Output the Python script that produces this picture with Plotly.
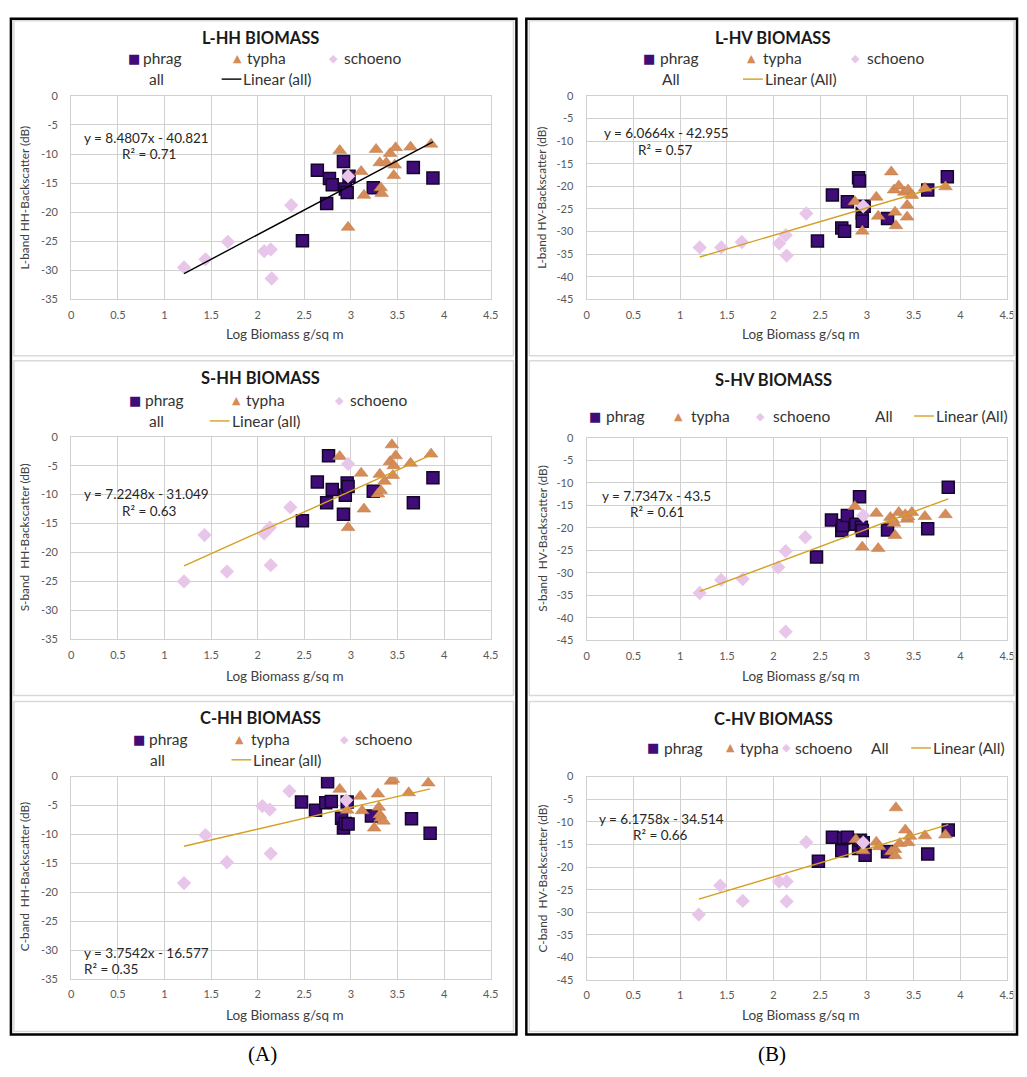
import plotly.graph_objects as go

# ---------------- DATA ----------------
x_ticks = [0, 0.5, 1, 1.5, 2, 2.5, 3, 3.5, 4, 4.5]
x_tick_labels = ["0", "0.5", "1", "1.5", "2", "2.5", "3", "3.5", "4", "4.5"]
y_ticks_35 = [0, -5, -10, -15, -20, -25, -30, -35]
y_ticks_45 = [0, -5, -10, -15, -20, -25, -30, -35, -40, -45]

# L-HH
phrag_x_lhh = [2.48, 2.64, 2.74, 2.77, 2.80, 2.92, 2.94, 2.96, 2.98, 3.24, 3.67, 3.88]
phrag_y_lhh = [-24.9, -12.8, -18.5, -14.2, -15.3, -11.3, -16.0, -16.6, -13.8, -15.8, -12.3, -14.1]
typha_x_lhh = [2.88, 2.97, 3.11, 3.14, 3.27, 3.31, 3.32, 3.33, 3.38, 3.42, 3.46, 3.47, 3.48, 3.64, 3.86]
typha_y_lhh = [-9.4, -22.6, -13.0, -17.1, -9.2, -11.5, -15.8, -16.8, -11.5, -9.9, -13.7, -11.9, -8.9, -8.8, -8.3]
schoeno_x_lhh = [1.21, 1.44, 1.68, 2.07, 2.14, 2.15, 2.36, 2.97]
schoeno_y_lhh = [-29.5, -28.1, -25.1, -26.7, -26.4, -31.4, -18.8, -13.8]

# L-HV
phrag_x_lhv = [2.47, 2.63, 2.73, 2.76, 2.79, 2.91, 2.92, 2.95, 2.95, 2.97, 3.22, 3.65, 3.86]
phrag_y_lhv = [-32.1, -21.9, -29.2, -29.9, -23.4, -18.1, -18.8, -25.9, -27.7, -24.4, -27.1, -20.8, -17.9]
typha_x_lhv = [2.87, 2.95, 3.10, 3.12, 3.26, 3.29, 3.30, 3.31, 3.34, 3.40, 3.43, 3.43, 3.44, 3.48, 3.62, 3.84]
typha_y_lhv = [-23.4, -29.9, -22.4, -26.6, -16.8, -20.8, -25.7, -28.7, -19.9, -21.3, -24.2, -26.8, -20.8, -22.0, -20.4, -20.1]
schoeno_x_lhv = [1.21, 1.44, 1.66, 2.06, 2.13, 2.14, 2.35, 2.96]
schoeno_y_lhv = [-33.5, -33.5, -32.3, -32.6, -30.8, -35.3, -26.0, -24.4]

# S-HH
phrag_x_shh = [2.48, 2.64, 2.74, 2.76, 2.80, 2.92, 2.94, 2.96, 2.97, 3.24, 3.67, 3.88]
phrag_y_shh = [-14.5, -7.8, -11.4, -3.3, -9.1, -13.4, -10.1, -8.0, -8.6, -9.4, -11.4, -7.1]
typha_x_shh = [2.88, 2.97, 3.11, 3.14, 3.29, 3.31, 3.32, 3.36, 3.42, 3.44, 3.45, 3.46, 3.48, 3.64, 3.86]
typha_y_shh = [-3.4, -15.7, -6.3, -12.5, -9.9, -6.5, -9.3, -7.7, -4.3, -1.4, -6.7, -5.0, -3.3, -4.6, -3.0]
schoeno_x_shh = [1.21, 1.43, 1.67, 2.07, 2.13, 2.14, 2.35, 2.97]
schoeno_y_shh = [-25.0, -17.0, -23.3, -16.7, -15.7, -22.2, -12.2, -4.7]

# S-HV
phrag_x_shv = [2.46, 2.62, 2.73, 2.74, 2.79, 2.88, 2.92, 2.94, 2.95, 3.22, 3.65, 3.87]
phrag_y_shv = [-26.5, -18.3, -20.6, -19.5, -17.3, -19.2, -13.1, -19.9, -20.6, -20.5, -20.2, -11.0]
typha_x_shv = [2.87, 2.95, 3.10, 3.12, 3.25, 3.28, 3.29, 3.30, 3.34, 3.41, 3.43, 3.44, 3.48, 3.62, 3.84]
typha_y_shv = [-15.3, -24.3, -16.8, -24.6, -17.7, -18.3, -19.0, -21.7, -16.6, -17.1, -18.1, -17.6, -16.6, -17.5, -17.1]
schoeno_x_shv = [1.21, 1.44, 1.67, 2.05, 2.13, 2.13, 2.34, 2.96]
schoeno_y_shv = [-34.5, -31.6, -31.4, -28.8, -25.2, -43.1, -22.1, -17.3]

# C-HH
phrag_x_chh = [2.47, 2.62, 2.73, 2.75, 2.79, 2.90, 2.92, 2.94, 2.96, 2.97, 3.22, 3.65, 3.85]
phrag_y_chh = [-4.4, -5.8, -4.5, -0.9, -4.3, -7.2, -8.9, -8.1, -4.4, -8.2, -6.8, -7.3, -9.8]
typha_x_chh = [2.88, 2.96, 3.10, 3.12, 3.25, 3.29, 3.30, 3.31, 3.32, 3.35, 3.43, 3.45, 3.62, 3.83]
typha_y_chh = [-2.2, -5.8, -3.4, -5.9, -8.9, -3.0, -5.3, -6.6, -7.2, -7.7, -0.8, -0.5, -2.8, -1.1]
schoeno_x_chh = [1.21, 1.44, 1.67, 2.05, 2.13, 2.14, 2.34, 2.95]
schoeno_y_chh = [-18.4, -10.1, -14.8, -5.1, -5.7, -13.3, -2.5, -4.1]

# C-HV
phrag_x_chv = [2.48, 2.63, 2.73, 2.75, 2.79, 2.91, 2.93, 2.96, 2.98, 3.22, 3.65, 3.87]
phrag_y_chv = [-18.7, -13.4, -16.4, -13.6, -13.4, -15.9, -14.1, -14.6, -17.4, -16.6, -17.1, -11.8]
typha_x_chv = [2.88, 2.96, 3.10, 3.13, 3.26, 3.30, 3.30, 3.31, 3.35, 3.41, 3.44, 3.46, 3.62, 3.84]
typha_y_chv = [-13.9, -16.4, -14.5, -15.5, -16.6, -16.1, -17.5, -6.9, -14.8, -11.8, -14.6, -13.2, -13.1, -12.9]
schoeno_x_chv = [1.20, 1.43, 1.67, 2.06, 2.14, 2.14, 2.35, 2.96]
schoeno_y_chv = [-30.5, -24.1, -27.5, -23.2, -23.2, -27.6, -14.5, -14.6]

panel_titles = ["L-HH BIOMASS", "L-HV BIOMASS", "S-HH BIOMASS", "S-HV BIOMASS", "C-HH BIOMASS", "C-HV BIOMASS"]
y_titles = ["L-band HH-Backscatter (dB)", "L-band HV-Backscatter (dB)",
            "S-band  HH-Backscatter (dB)", "S-band  HV-Backscatter (dB)",
            "C-band  HH-Backscatter (dB)", "C-band  HV-Backscatter (dB)"]
x_title = "Log Biomass g/sq m"
slopes = [8.4807, 6.0664, 7.2248, 7.7347, 3.7542, 6.1758]
intercepts = [-40.821, -42.955, -31.049, -43.5, -16.577, -34.514]
eq_texts = ["y = 8.4807x - 40.821", "y = 6.0664x - 42.955", "y = 7.2248x - 31.049",
            "y = 7.7347x - 43.5", "y = 3.7542x - 16.577", "y = 6.1758x - 34.514"]
r2_values = ["0.71", "0.57", "0.63", "0.61", "0.35", "0.66"]
all_labels = ["all", "All", "all", "All", "all", "All"]

# ---------------- STYLE / LAYOUT ----------------
W, H = 1027, 1077
FONT = "Lato"
GRID = "#d0d0d0"
C_PHRAG = "#3f0c78"
C_PHRAG_EDGE = "#15072a"
C_TYPHA = "#d58c58"
C_SCHOENO = "#e8c6ea"
C_TREND = ["#000000", "#d4a020", "#d4a020", "#d4a020", "#d4a020", "#d4a020"]


def fx(p):
    return p / W


def fy(p):
    return 1 - p / H


data_sets = [
    (phrag_x_lhh, phrag_y_lhh, typha_x_lhh, typha_y_lhh, schoeno_x_lhh, schoeno_y_lhh),
    (phrag_x_lhv, phrag_y_lhv, typha_x_lhv, typha_y_lhv, schoeno_x_lhv, schoeno_y_lhv),
    (phrag_x_shh, phrag_y_shh, typha_x_shh, typha_y_shh, schoeno_x_shh, schoeno_y_shh),
    (phrag_x_shv, phrag_y_shv, typha_x_shv, typha_y_shv, schoeno_x_shv, schoeno_y_shv),
    (phrag_x_chh, phrag_y_chh, typha_x_chh, typha_y_chh, schoeno_x_chh, schoeno_y_chh),
    (phrag_x_chv, phrag_y_chv, typha_x_chv, typha_y_chv, schoeno_x_chv, schoeno_y_chv),
]

# pixel geometry per panel; legend entries: (kind, marker_x, text_x, y)
geo = [
    dict(x0=69, x1=493, y0=90, y1=296, ymin=-35, ticks=y_ticks_35, title_y=31, tcx=260,
         ytx=22, ycy=193, xty=331, eq=(80, 133), r2=(118, 149),
         leg=[("sq", 132, 141, 52), ("tri", 237, 246, 52), ("dia", 334, 344, 52),
              ("all", 0, 147, 73), ("line", 221, 242, 73)]),
    dict(x0=590, x1=1015, y0=90, y1=296, ymin=-45, ticks=y_ticks_45, title_y=31, tcx=778,
         ytx=545, ycy=193, xty=331, eq=(605, 128), r2=(640, 145),
         leg=[("sq", 653, 663, 52), ("tri", 757, 767, 52), ("dia", 862, 872, 52),
              ("all", 0, 665, 73), ("line", 748, 769, 73)]),
    dict(x0=69, x1=493, y0=435, y1=640, ymin=-35, ticks=y_ticks_35, title_y=376, tcx=260,
         ytx=22, ycy=537, xty=677, eq=(80, 493), r2=(118, 510),
         leg=[("sq", 133, 143, 398), ("tri", 236, 245, 398), ("dia", 340, 350, 398),
              ("all", 0, 147, 419), ("line", 209, 230, 419)]),
    dict(x0=590, x1=1015, y0=436, y1=641, ymin=-45, ticks=y_ticks_45, title_y=378, tcx=779,
         ytx=545, ycy=538, xty=677, eq=(603, 495), r2=(632, 511),
         leg=[("sq", 598, 609, 414), ("tri", 683, 694, 414), ("dia", 766, 777, 414),
              ("all", 0, 880, 414), ("line", 921, 942, 414)]),
    dict(x0=69, x1=493, y0=779, y1=984, ymin=-35, ticks=y_ticks_35, title_y=720, tcx=260,
         ytx=22, ycy=880, xty=1020, eq=(80, 958), r2=(80, 974),
         leg=[("sq", 137, 147, 741), ("tri", 239, 250, 741), ("dia", 345, 355, 741),
              ("all", 0, 148, 762), ("line", 231, 252, 762)]),
    dict(x0=590, x1=1015, y0=779, y1=985, ymin=-45, ticks=y_ticks_45, title_y=721, tcx=779,
         ytx=545, ycy=882, xty=1020, eq=(600, 822), r2=(635, 838),
         leg=[("sq", 657, 667, 750), ("tri", 735, 744, 750), ("dia", 792, 800, 750),
              ("all", 0, 876, 750), ("line", 918, 939, 750)]),
]

fig = go.Figure()
annotations = []
shapes = []
layout = {}
LEG_FONT = dict(family=FONT, size=15.5, color="#333333")

for i, (g, ds) in enumerate(zip(geo, data_sets)):
    sfx = "" if i == 0 else str(i + 1)
    xa, ya = "x" + sfx, "y" + sfx
    px_, py_, tx_, ty_, sx_, sy_ = ds

    fig.add_trace(go.Scatter(x=px_, y=py_, xaxis=xa, yaxis=ya, mode="markers", name="phrag",
                             showlegend=False,
                             marker=dict(symbol="square", size=12, color=C_PHRAG,
                                         line=dict(color=C_PHRAG_EDGE, width=1.5))))
    fig.add_trace(go.Scatter(x=tx_, y=ty_, xaxis=xa, yaxis=ya, mode="markers", name="typha",
                             showlegend=False,
                             marker=dict(symbol="triangle-up", size=12, color=C_TYPHA,
                                         line=dict(color="#c07a48", width=0.5))))
    fig.add_trace(go.Scatter(x=sx_, y=sy_, xaxis=xa, yaxis=ya, mode="markers", name="schoeno",
                             showlegend=False,
                             marker=dict(symbol="diamond", size=11, color=C_SCHOENO,
                                         line=dict(width=0))))
    allx = list(px_) + list(tx_) + list(sx_)
    lx = [min(allx), max(allx)]
    ly = [slopes[i] * v + intercepts[i] for v in lx]
    fig.add_trace(go.Scatter(x=lx, y=ly, xaxis=xa, yaxis=ya, mode="lines",
                             name="Linear (" + all_labels[i] + ")", showlegend=False,
                             line=dict(color=C_TREND[i], width=1.4)))

    layout["xaxis" + sfx] = dict(domain=[fx(g["x0"]), fx(g["x1"])], range=[0, 4.5], anchor=ya,
                                 tickvals=x_ticks, ticktext=x_tick_labels, showgrid=True,
                                 gridcolor=GRID, gridwidth=1.2, zeroline=False, showline=True,
                                 mirror=True, linecolor=GRID, linewidth=1.2, ticks="",
                                 ticklabelstandoff=5,
                                 tickfont=dict(family=FONT, size=11, color="#595959"))
    layout["yaxis" + sfx] = dict(domain=[fy(g["y1"]), fy(g["y0"])], range=[g["ymin"], 0], anchor=xa,
                                 tickvals=g["ticks"], ticktext=[str(v) for v in g["ticks"]],
                                 showgrid=True, gridcolor=GRID, gridwidth=1.2, zeroline=False,
                                 showline=True, mirror=True, linecolor=GRID, linewidth=1.2,
                                 ticks="", ticklabelstandoff=10,
                                 tickfont=dict(family=FONT, size=11, color="#595959"))

    annotations.append(dict(x=fx(g["tcx"]), y=fy(g["title_y"]), xref="paper", yref="paper",
                            text="<b>" + panel_titles[i] + "</b>", showarrow=False,
                            xanchor="center", yanchor="middle", borderpad=0,
                            font=dict(family=FONT, size=16.5, color="#1a1a1a")))
    annotations.append(dict(x=fx(g["ytx"]), y=fy(g["ycy"]), xref="paper", yref="paper",
                            text=y_titles[i], showarrow=False, textangle=-90,
                            xanchor="center", yanchor="middle",
                            font=dict(family=FONT, size=11.8, color="#404040")))
    annotations.append(dict(x=fx((g["x0"] + g["x1"]) / 2 + 4), y=fy(g["xty"]), xref="paper", yref="paper",
                            text=x_title, showarrow=False, xanchor="center", yanchor="middle",
                            font=dict(family=FONT, size=13.5, color="#404040")))
    annotations.append(dict(x=fx(g["eq"][0]), y=fy(g["eq"][1]), xref="paper", yref="paper",
                            text=eq_texts[i], showarrow=False, xanchor="left", yanchor="middle",
                            font=dict(family=FONT, size=13.5, color="#262626")))
    annotations.append(dict(x=fx(g["r2"][0]), y=fy(g["r2"][1]), xref="paper", yref="paper",
                            text="R² = " + r2_values[i], showarrow=False, xanchor="left", yanchor="middle",
                            font=dict(family=FONT, size=13.5, color="#262626")))
    labels = {"sq": "phrag", "tri": "typha", "dia": "schoeno"}
    glyphs = {"sq": ("■", C_PHRAG, 13), "tri": ("▲", C_TYPHA, 11), "dia": ("◆", C_SCHOENO, 11)}
    for kind, mx, tx, my in g["leg"]:
        if kind in glyphs:
            ch, col, sz = glyphs[kind]
            annotations.append(dict(x=fx(mx), y=fy(my), xref="paper", yref="paper", text=ch,
                                    showarrow=False, xanchor="center", yanchor="middle", borderpad=0,
                                    font=dict(family="DejaVu Sans", size=sz, color=col)))
            annotations.append(dict(x=fx(tx), y=fy(my), xref="paper", yref="paper",
                                    text=labels[kind], showarrow=False, xanchor="left", yanchor="middle",
                                    borderpad=0, font=LEG_FONT))
        elif kind == "all":
            annotations.append(dict(x=fx(tx), y=fy(my), xref="paper", yref="paper",
                                    text=all_labels[i], showarrow=False, xanchor="left", yanchor="middle",
                                    borderpad=0, font=LEG_FONT))
        else:
            shapes.append(dict(type="line", xref="paper", yref="paper", x0=fx(mx), x1=fx(tx - 1),
                               y0=fy(my), y1=fy(my), line=dict(color=C_TREND[i], width=1.4)))
            annotations.append(dict(x=fx(tx), y=fy(my), xref="paper", yref="paper",
                                    text="Linear (" + all_labels[i] + ")", showarrow=False,
                                    xanchor="left", yanchor="middle", borderpad=0, font=LEG_FONT))

for (cx0, cx1) in [(11, 516), (532, 1022)]:
    for (cy0, cy1) in [(14, 353), (358, 697), (703, 1037)]:
        shapes.append(dict(type="rect", xref="paper", yref="paper", x0=fx(cx0), x1=fx(cx1),
                           y0=fy(cy1), y1=fy(cy0), line=dict(color="#d9d9d9", width=1.5)))
for (bx0, bx1) in [(8, 519), (529, 1025)]:
    shapes.append(dict(type="rect", xref="paper", yref="paper", x0=fx(bx0), x1=fx(bx1),
                       y0=fy(1040), y1=fy(12), line=dict(color="#000000", width=2.5)))

annotations.append(dict(x=fx(262), y=fy(1060), xref="paper", yref="paper", text="(A)", showarrow=False,
                        xanchor="center", yanchor="middle",
                        font=dict(family="Liberation Serif", size=21, color="#000000")))
annotations.append(dict(x=fx(777), y=fy(1060), xref="paper", yref="paper", text="(B)", showarrow=False,
                        xanchor="center", yanchor="middle",
                        font=dict(family="Liberation Serif", size=21, color="#000000")))

fig.update_layout(width=W, height=H, margin=dict(l=0, r=0, t=0, b=0),
                  paper_bgcolor="white", plot_bgcolor="white", showlegend=False,
                  annotations=annotations, shapes=shapes, **layout)

fig.write_html("out.html", config={"displayModeBar": False},
               post_script="document.body.style.margin='0';document.body.style.overflow='hidden';")
